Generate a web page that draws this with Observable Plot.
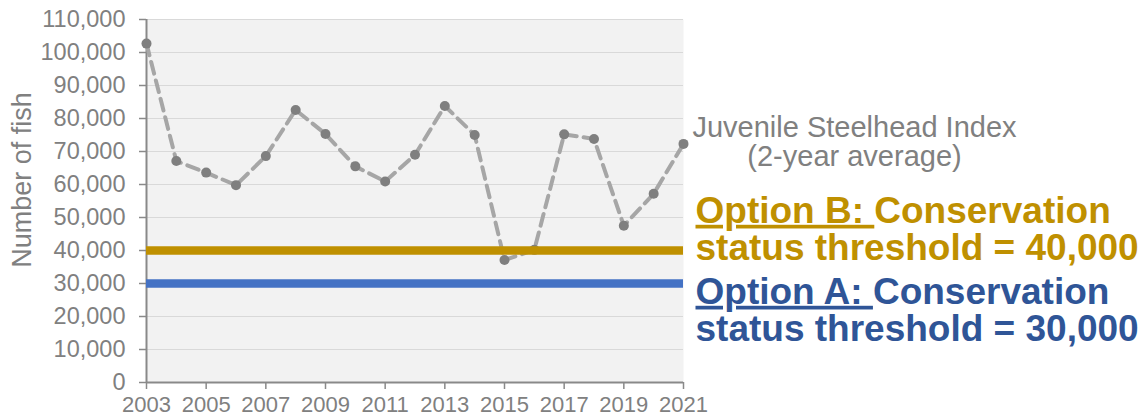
<!DOCTYPE html>
<html><head><meta charset="utf-8">
<script src="https://cdn.jsdelivr.net/npm/d3@7"></script>
<script src="https://cdn.jsdelivr.net/npm/@observablehq/plot@0.6"></script>
<style>html,body{margin:0;padding:0;background:#fff;} svg{display:block;}</style>
</head><body><div id="chart"></div>
<script>
const years = [2003, 2004, 2005, 2006, 2007, 2008, 2009, 2010, 2011, 2012, 2013, 2014, 2015, 2016, 2017, 2018, 2019, 2020, 2021];
const fishIndex = [102700, 67100, 63600, 59800, 68600, 82600, 75300, 65500, 60900, 69000, 83800, 75000, 37100, 40200, 75200, 73800, 47500, 57200, 72300];
const thresholdValues = [40000, 30000];
const thresholdLabels = [
  "Option B: Conservation\nstatus threshold = 40,000",
  "Option A: Conservation\nstatus threshold = 30,000"
];
const seriesLabel = "Juvenile Steelhead Index\n(2-year average)";
const yLabel = "Number of fish";
const yTicks = [0, 10000, 20000, 30000, 40000, 50000, 60000, 70000, 80000, 90000, 100000, 110000];
const xTicks = [2003, 2005, 2007, 2009, 2011, 2013, 2015, 2017, 2019, 2021];

const series = years.map((year, i) => ({year, value: fishIndex[i]}));
const thresholds = thresholdValues.map((value, i) => ({value, label: thresholdLabels[i]}));
const lastPoint = series[series.length - 1];
const lastYear = years[years.length - 1];

const plot = Plot.plot({
  width: 1147,
  height: 419,
  marginLeft: 146,
  marginRight: 464,
  marginTop: 19,
  marginBottom: 37,
  style: {fontFamily: "'Liberation Sans', Arial, sans-serif", background: "#fff", overflow: "visible"},
  x: {domain: [years[0], lastYear]},
  y: {domain: [yTicks[0], yTicks[yTicks.length - 1]]},
  marks: [
    Plot.frame({fill: "#f2f2f2", stroke: "none"}),
    Plot.gridY(yTicks, {stroke: "#d9d9d9", strokeOpacity: 1, strokeWidth: 1}),
    Plot.axisY(yTicks, {tickFormat: d3.format(","), tickSize: 7, tickPadding: 14, stroke: "#898989", strokeWidth: 1.5, fill: "#808080", fontSize: 23.5, label: null}),
    Plot.axisX(xTicks, {tickFormat: "d", tickSize: 7, tickPadding: 7, stroke: "#898989", strokeWidth: 1.5, fill: "#808080", fontSize: 22, label: null}),
    Plot.ruleX([years[0]], {stroke: "#898989", strokeWidth: 2}),
    Plot.ruleY([0], {stroke: "#898989", strokeWidth: 2}),
    Plot.line(series, {x: "year", y: "value", stroke: "#a6a6a6", strokeWidth: 4, strokeDasharray: "12 7"}),
    Plot.dot(series, {x: "year", y: "value", r: 5, fill: "#7f7f7f", stroke: "none"}),
    Plot.ruleY([thresholds[0]], {y: "value", stroke: "#bf9000", strokeWidth: 8.5}),
    Plot.ruleY([thresholds[1]], {y: "value", stroke: "#4472c4", strokeWidth: 8.5}),
    Plot.text([yLabel], {text: d => d, frameAnchor: "left", rotate: -90, textAnchor: "middle", lineAnchor: "middle", dx: -124, dy: -21, fontSize: 27, fill: "#808080"}),
    Plot.text([lastPoint], {x: "year", y: "value", text: () => seriesLabel, textAnchor: "middle", lineAnchor: "top", dx: 171, dy: -27.5, fontSize: 29, lineHeight: 1.0, fill: "#808080"}),
    Plot.text([thresholds[0]], {x: () => lastYear, y: "value", text: "label", textAnchor: "start", lineAnchor: "top", dx: 12, dy: -54, fontSize: 37, fontWeight: "bold", lineHeight: 1.0, fill: "#bf9000"}),
    Plot.text([thresholds[1]], {x: () => lastYear, y: "value", text: "label", textAnchor: "start", lineAnchor: "top", dx: 12, dy: -6, fontSize: 37, fontWeight: "bold", lineHeight: 1.0, fill: "#2f5597"})
  ]
});

d3.select(plot).selectAll("tspan, text").each(function() {
  if (this.children && this.children.length) return;
  const t = this.textContent;
  const m = t.match(/^(Option [AB]: )(.*)$/);
  if (m) {
    const s = d3.select(this);
    s.text("");
    s.append("tspan").attr("text-decoration", "underline").style("white-space", "pre").text(m[1]);
    s.append("tspan").text(m[2]);
  }
});

document.getElementById("chart").appendChild(plot);
</script>
</body></html>
